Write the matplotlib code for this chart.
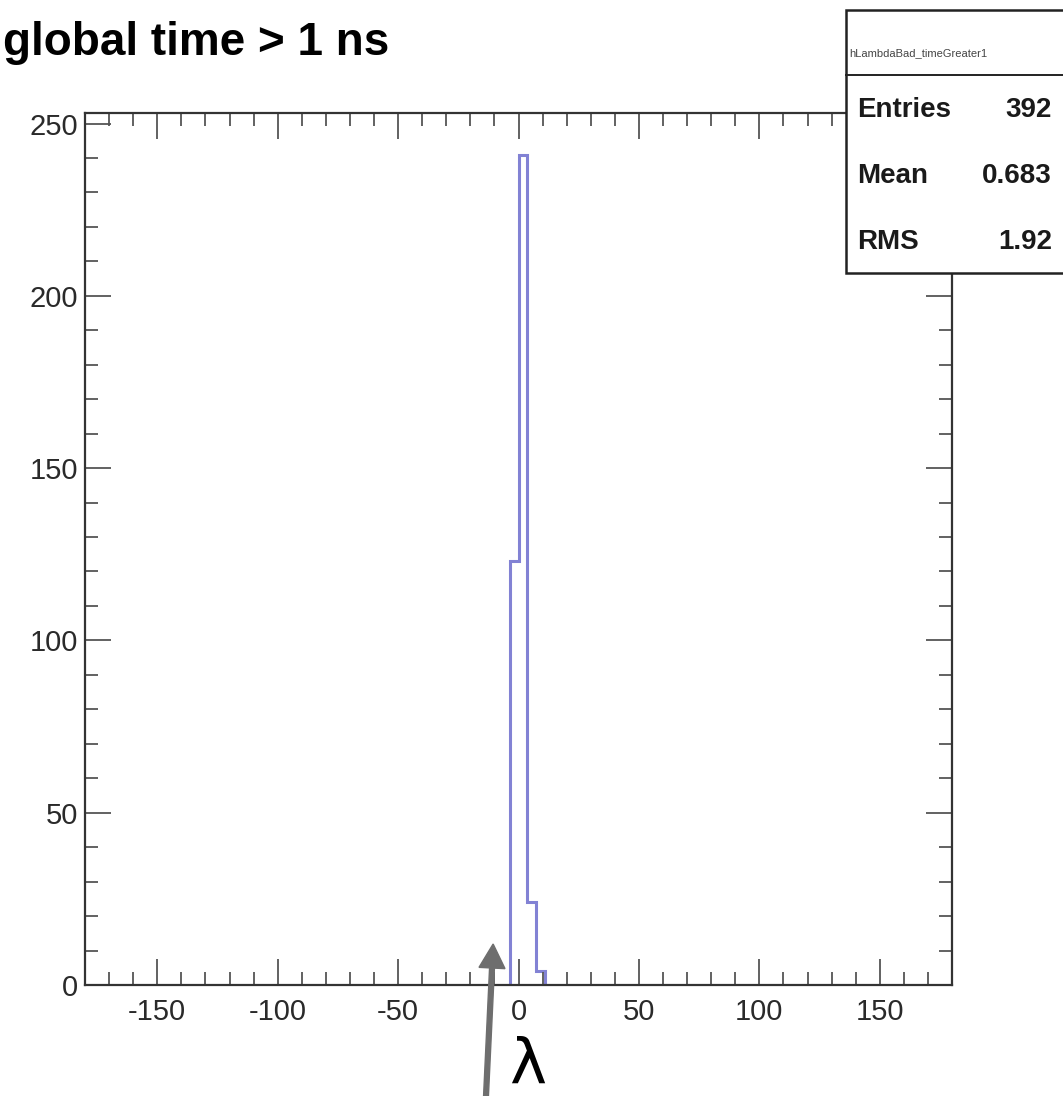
import numpy as np
import matplotlib
matplotlib.use("Agg")
import matplotlib.pyplot as plt
from matplotlib.ticker import MultipleLocator
from matplotlib.patches import Rectangle, FancyArrow

# === Data ===
bin_edges = [-3.6, 0.0, 3.6, 7.2, 10.8]
bin_counts = [123, 241, 24, 4]
x_ticks = [-150, -100, -50, 0, 50, 100, 150]
y_ticks = [0, 50, 100, 150, 200, 250]
hist_name = "hLambdaBad_timeGreater1"
stat_names = ["Entries", "Mean", "RMS"]
stat_values = ["392", "0.683", "1.92"]

plt.rcParams['font.family'] = ['Liberation Sans', 'DejaVu Sans']
plt.rcParams['axes.unicode_minus'] = False

W, H = 1063, 1096
fig = plt.figure(figsize=(W / 100, H / 100), dpi=100)
fig.patch.set_facecolor('white')

# axes frame in pixels: x 85..952, y 113..985 (from top)
ax = fig.add_axes([85 / W, 1 - 985 / H, (952 - 85) / W, (985 - 113) / H])

ax.stairs(bin_counts, bin_edges, color='#8282d4', lw=2.2)

ax.set_xlim(-180, 180)
ax.set_ylim(0, 1.05 * max(bin_counts))
ax.set_xticks(x_ticks)
ax.set_yticks(y_ticks)
ax.xaxis.set_minor_locator(MultipleLocator(10))
ax.yaxis.set_minor_locator(MultipleLocator(10))
ax.tick_params(which='both', direction='in', top=True, right=True,
               color='#555555', width=1.3)
ax.tick_params(which='major', length=19)
ax.tick_params(which='minor', length=9.5)
ax.tick_params(axis='both', labelsize=21, labelcolor='#2a2a2a')
ax.tick_params(axis='x', pad=9)
ax.tick_params(axis='y', pad=5)
for s in ax.spines.values():
    s.set_color('#333333')
    s.set_linewidth(1.6)

# title
fig.text(3 / W, 1 - 55 / H, "global time > 1 ns", fontsize=33, fontweight='bold',
         ha='left', va='baseline')

# stats box
bx0, by0, by1 = 846, 10, 273
box = Rectangle((bx0 / W, 1 - by1 / H), (W - bx0 + 10) / W, (by1 - by0) / H,
                transform=fig.transFigure, facecolor='white', edgecolor='#222222',
                lw=1.8, zorder=5)
fig.add_artist(box)
fig.add_artist(plt.Line2D([bx0 / W, 1], [1 - 75 / H, 1 - 75 / H],
                          transform=fig.transFigure, color='#222222', lw=1.4, zorder=6))
fig.text(849 / W, 1 - 53 / H, hist_name, fontsize=8, ha='left', va='center',
         color='#444444', zorder=7)
row_y = [110, 176, 242]
for name, val, yy in zip(stat_names, stat_values, row_y):
    fig.text(857 / W, 1 - yy / H, name, fontsize=20, fontweight='bold',
             ha='left', va='center', color='#1a1a1a', zorder=7)
    fig.text(1052 / W, 1 - yy / H, val, fontsize=20, fontweight='bold',
             ha='right', va='center', color='#1a1a1a', zorder=7)

# arrow with lambda
arrow = FancyArrow(486 / W, 0.0, 6 / W, (1096 - 968) / H, width=5 / H,
                   head_width=26 / W, head_length=24 / H, length_includes_head=False,
                   transform=fig.transFigure, color='#6e6e6e', zorder=8)
fig.add_artist(arrow)
fig.text(528 / W, 1 - 1066 / H, "λ", fontsize=45, ha='center', va='center',
         family=['DejaVu Sans'], zorder=8)

fig.savefig("out.png", dpi=100)
